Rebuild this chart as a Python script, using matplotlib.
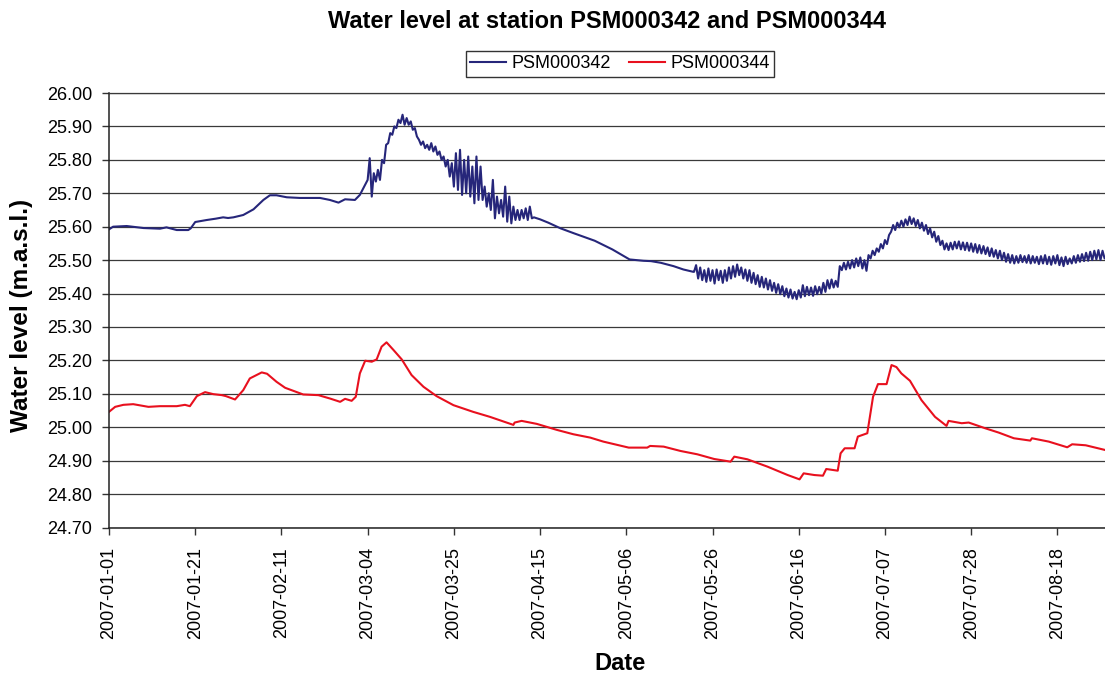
import numpy as np
import matplotlib
matplotlib.use('Agg')
import matplotlib.pyplot as plt

plt.rcParams['font.family'] = ['Liberation Sans', 'DejaVu Sans']

# x is measured in days from the first sample (ticks every 21 days in the original)
tick_labels = ['2007-01-01', '2007-01-21', '2007-02-11', '2007-03-04', '2007-03-25', '2007-04-15',
               '2007-05-06', '2007-05-26', '2007-06-16', '2007-07-07', '2007-07-28', '2007-08-18']

# PSM000342, smooth part Jan - early Mar (day, level)
b1_days = [0, 1, 4.3, 8.4, 12.4, 14, 16.5, 19.3, 19.9, 21, 23.8, 26, 27.8, 29, 30.3, 32.7, 35.2,
           37.6, 39.2, 40.8, 43.3, 46.5, 51.4, 53.8, 55.9, 57.5, 59.9, 61.1, 62.8]
b1_vals = [25.592, 25.600, 25.602, 25.596, 25.594, 25.598, 25.590, 25.590, 25.595, 25.614, 25.620,
           25.624, 25.628, 25.626, 25.628, 25.635, 25.652, 25.680, 25.694, 25.694, 25.688, 25.686,
           25.686, 25.680, 25.672, 25.682, 25.680, 25.695, 25.735]

# PSM000342, half-day readings from day 63.0 (spring peak)
b2_start = 63.0
b2_vals = [25.740, 25.805, 25.690, 25.760, 25.735, 25.770, 25.740, 25.800, 25.790, 25.845,
           25.850, 25.880, 25.875, 25.900, 25.895, 25.920, 25.910, 25.935, 25.905, 25.925,
           25.905, 25.915, 25.890, 25.895, 25.870, 25.860, 25.845, 25.855, 25.835, 25.845,
           25.830, 25.850, 25.825, 25.840, 25.815, 25.825, 25.800, 25.810, 25.780, 25.800,
           25.750, 25.790, 25.720, 25.820, 25.710, 25.830, 25.695, 25.800, 25.700, 25.810,
           25.690, 25.780, 25.670, 25.810, 25.680, 25.780, 25.680, 25.720, 25.660, 25.700,
           25.650, 25.740, 25.625, 25.690, 25.640, 25.680, 25.630, 25.720, 25.615, 25.690,
           25.610, 25.660, 25.620, 25.650, 25.620, 25.650, 25.625, 25.655, 25.620, 25.660,
           25.625, 25.628]

# PSM000342, smooth recession Apr - May
b3_days = [105, 107, 109.1, 110, 113.3, 118.3, 122.6, 126.8, 130.2, 132, 134.4, 137.5, 139.9, 142.3]
b3_vals = [25.622, 25.612, 25.600, 25.595, 25.580, 25.558, 25.532, 25.502, 25.498, 25.497,
           25.492, 25.482, 25.472, 25.465]

# PSM000342, half-day readings from day 142.5 (summer)
b4_start = 142.5
b4_vals = [25.465, 25.485, 25.445, 25.478, 25.440, 25.470, 25.435, 25.475, 25.438, 25.470,
           25.430, 25.472, 25.440, 25.468, 25.432, 25.470, 25.438, 25.478, 25.445, 25.482,
           25.450, 25.487, 25.455, 25.478, 25.445, 25.472, 25.438, 25.470, 25.432, 25.462,
           25.428, 25.455, 25.420, 25.450, 25.418, 25.445, 25.412, 25.440, 25.408, 25.432,
           25.402, 25.428, 25.398, 25.422, 25.392, 25.415, 25.388, 25.412, 25.385, 25.405,
           25.383, 25.410, 25.388, 25.425, 25.392, 25.420, 25.395, 25.418, 25.393, 25.422,
           25.398, 25.420, 25.400, 25.432, 25.405, 25.440, 25.415, 25.442, 25.418, 25.438,
           25.420, 25.482, 25.470, 25.492, 25.472, 25.495, 25.475, 25.500, 25.478, 25.505,
           25.482, 25.508, 25.475, 25.500, 25.468, 25.515, 25.505, 25.528, 25.515, 25.535,
           25.525, 25.548, 25.535, 25.560, 25.548, 25.575, 25.585, 25.605, 25.590, 25.612,
           25.598, 25.618, 25.600, 25.622, 25.605, 25.630, 25.608, 25.625, 25.602, 25.620,
           25.595, 25.612, 25.588, 25.605, 25.578, 25.595, 25.568, 25.585, 25.555, 25.572,
           25.545, 25.558, 25.532, 25.550, 25.530, 25.552, 25.532, 25.555, 25.535, 25.556,
           25.532, 25.553, 25.530, 25.552, 25.528, 25.550, 25.525, 25.548, 25.522, 25.545,
           25.520, 25.542, 25.518, 25.538, 25.512, 25.535, 25.510, 25.530, 25.505, 25.528,
           25.500, 25.522, 25.495, 25.518, 25.492, 25.515, 25.490, 25.512, 25.492, 25.515,
           25.494, 25.512, 25.492, 25.515, 25.490, 25.512, 25.492, 25.510, 25.488, 25.512,
           25.490, 25.515, 25.488, 25.510, 25.486, 25.512, 25.490, 25.515, 25.485, 25.508,
           25.482, 25.510, 25.488, 25.505, 25.490, 25.512, 25.492, 25.515, 25.495, 25.518,
           25.497, 25.522, 25.498, 25.525, 25.500, 25.528, 25.502, 25.530, 25.500, 25.528,
           25.505, 25.515]

# PSM000344 (day, level)
r_days = [0, 1.5, 3.5, 5.9, 9.6, 12.4, 16.5, 18.5, 19.7, 21.4, 23.4, 25.4, 27.5, 28.5, 30.7, 32.7,
          34.3, 37.2, 38.5, 40.8, 42.9, 47.3, 51, 53.8, 56.3, 57.5, 59.1, 60.1, 61.1, 62.4, 64,
          65.2, 66.4, 67.6, 69.3, 71.3, 73.7, 76.6, 79.8, 83.9, 88.7, 92.8, 98.5, 98.8, 100.5,
          104.2, 109.1, 113.1, 117.2, 120.4, 126.6, 131.1, 131.8, 135.1, 139.2, 143.3, 147.4,
          151.4, 152.3, 155.5, 160.4, 165.3, 168.2, 169.2, 171.8, 173.9, 174.7, 177.5, 178.2,
          179.2, 181.6, 182.4, 184.7, 186.1, 187.3, 189.4, 190.6, 191.8, 193, 195.1, 197.9,
          201.2, 204, 204.5, 207.7, 209.4, 213.4, 216.7, 220.4, 224.4, 224.8, 228.9, 233.4,
          234.6, 237.9, 242.6]
r_vals = [25.046, 25.061, 25.067, 25.069, 25.061, 25.063, 25.063, 25.067, 25.063, 25.093, 25.105,
          25.099, 25.096, 25.093, 25.083, 25.111, 25.146, 25.164, 25.160, 25.136, 25.118, 25.098,
          25.096, 25.086, 25.076, 25.085, 25.079, 25.091, 25.161, 25.199, 25.196, 25.203, 25.241,
          25.254, 25.231, 25.203, 25.156, 25.121, 25.093, 25.066, 25.046, 25.031, 25.007, 25.014,
          25.019, 25.010, 24.992, 24.979, 24.969, 24.957, 24.939, 24.939, 24.944, 24.942, 24.929,
          24.919, 24.905, 24.897, 24.912, 24.904, 24.882, 24.857, 24.844, 24.862, 24.857, 24.855,
          24.875, 24.870, 24.922, 24.937, 24.937, 24.972, 24.982, 25.091, 25.129, 25.129, 25.186,
          25.180, 25.161, 25.139, 25.081, 25.031, 25.004, 25.019, 25.012, 25.014, 24.997, 24.984,
          24.967, 24.960, 24.967, 24.957, 24.940, 24.949, 24.946, 24.932]

b2_days = b2_start + 0.5 * np.arange(len(b2_vals))
b4_days = b4_start + 0.5 * np.arange(len(b4_vals))
blue_days = np.concatenate([b1_days, b2_days, b3_days, b4_days])
blue_vals = np.concatenate([b1_vals, b2_vals, b3_vals, b4_vals])

fig = plt.figure(figsize=(11.05, 6.73), dpi=100)
ax = fig.add_axes([109 / 1105, 1 - 527.5 / 673, 1 - 109 / 1105, (527.5 - 93) / 673])

ax.plot(blue_days, blue_vals, color='#26267a', lw=1.5, label='PSM000342')
ax.plot(r_days, r_vals, color='#e8101e', lw=1.5, label='PSM000344')

ax.set_ylim(24.70, 26.00)
ax.set_yticks(np.arange(24.70, 26.001, 0.10))
ax.set_yticklabels(['%.2f' % v for v in np.arange(24.70, 26.001, 0.10)])
ax.set_xlim(0, 242.6)
ax.set_xticks(np.arange(len(tick_labels)) * 21)
ax.set_xticklabels(tick_labels, rotation=90)
ax.tick_params(axis='both', labelsize=13, length=5, width=1, direction='out', color='#333333')
ax.tick_params(axis='y', pad=7)
ax.tick_params(axis='x', pad=9)

ax.grid(axis='y', color='#3a3a3a', lw=0.9)
ax.set_axisbelow(True)
ax.spines['right'].set_visible(False)
ax.spines['top'].set_color('#3a3a3a')
ax.spines['top'].set_linewidth(0.9)
for s in ['left', 'bottom']:
    ax.spines[s].set_color('#222222')
    ax.spines[s].set_linewidth(1.1)

fig.text(607 / 1105, 1 - 22 / 673, 'Water level at station PSM000342 and PSM000344',
         ha='center', va='center', fontsize=17, fontweight='bold')
fig.text(22 / 1105, 1 - 315 / 673, 'Water level (m.a.s.l.)', ha='center', va='center',
         rotation=90, fontsize=17.5, fontweight='bold')
fig.text(620 / 1105, 1 - 663 / 673, 'Date', ha='center', va='center', fontsize=17,
         fontweight='bold')

leg = fig.legend(loc='center', bbox_to_anchor=(620 / 1105, 1 - 64 / 673), ncol=2, fontsize=13,
                 frameon=True, fancybox=False, edgecolor='black', handlelength=2.0,
                 handletextpad=0.3, columnspacing=1.0, borderpad=0.25, borderaxespad=0)
leg.get_frame().set_linewidth(1.0)

fig.savefig('out.png', dpi=100)
